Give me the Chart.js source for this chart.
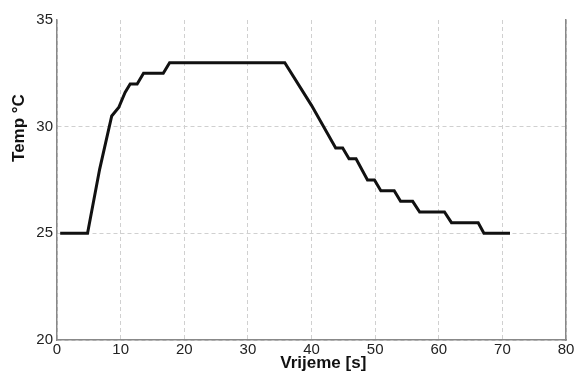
<!DOCTYPE html>
<html>
<head>
<meta charset="utf-8">
<script src="https://cdn.jsdelivr.net/npm/chart.js@4/dist/chart.umd.min.js"></script>
<style>
    html, body { margin: 0; padding: 0; background: #fff; }
    #box { width: 577px; height: 374px; }
</style>
</head>
<body>
<div id="box"><canvas id="tempGraphic"></canvas></div>
<script>
// time [s] and temperature [°C]
const times = [0.5, 4.8, 6.7, 8.6, 9.7, 10.7, 11.5, 12.6, 13.6, 16.7, 17.7, 35.8, 40, 43.8, 44.9, 45.9, 47, 48.8, 49.9, 50.9, 53, 54, 55.9, 57, 60.9, 62, 66.2, 67.1, 71.2];
const temps = [25, 25, 28, 30.5, 30.9, 31.6, 32, 32, 32.5, 32.5, 33, 33, 31, 29, 29, 28.5, 28.5, 27.5, 27.5, 27, 27, 26.5, 26.5, 26, 26, 25.5, 25.5, 25, 25];
const xTicks = [0, 10, 20, 30, 40, 50, 60, 70, 80];
const yTicks = [20, 25, 30, 35];

const points = times.map((t, i) => ({ x: t, y: temps[i] }));

const tickFont = { family: 'Liberation Sans, Arial, sans-serif', size: 15 };
const titleFont = { family: 'Liberation Sans, Arial, sans-serif', size: 17, weight: 'bold' };

const config = {
    type: 'line',
    data: {
        datasets: [{
            data: points,
            borderColor: '#111',
            borderWidth: 3,
            fill: false,
            tension: 0,
            pointRadius: 0
        }]
    },
    options: {
        animation: false,
        responsive: true,
        maintainAspectRatio: false,
        layout: { padding: { top: 20, right: 11, left: 0, bottom: 0 } },
        plugins: { legend: { display: false }, tooltip: { enabled: false } },
        scales: {
            x: {
                type: 'linear',
                min: 0,
                max: 80,
                afterBuildTicks: (scale) => { scale.ticks = xTicks.map(v => ({ value: v })); },
                afterFit: (scale) => { scale.height = 34; },
                ticks: { color: '#222', font: tickFont, padding: 1 },
                grid: { color: '#d0d0d0', drawTicks: false },
                border: { display: true, color: '#888', width: 1.5, dash: [4, 3] },
                title: {
                    display: true,
                    text: '     Vrijeme [s]',
                    color: '#111',
                    font: titleFont,
                    padding: { top: 0, bottom: 0 }
                }
            },
            y: {
                min: 20,
                max: 35,
                afterBuildTicks: (scale) => { scale.ticks = yTicks.map(v => ({ value: v })); },
                afterFit: (scale) => { scale.width = 57; },
                ticks: { color: '#222', font: tickFont, padding: 4 },
                grid: {
                    color: (ctx) => ctx.tick && ctx.tick.value === 35 ? 'rgba(0,0,0,0)' : '#d0d0d0',
                    drawTicks: false
                },
                border: { display: true, color: '#888', width: 1.5, dash: [4, 3] },
                title: {
                    display: true,
                    text: '                      Temp °C',
                    color: '#111',
                    font: titleFont,
                    padding: { top: 9, bottom: 0 }
                }
            },
            y2: {
                position: 'right',
                min: 20,
                max: 35,
                afterFit: (scale) => { scale.width = 0; },
                ticks: { display: false },
                grid: { display: false, drawTicks: false },
                border: { display: true, color: '#888', width: 1.5 }
            }
        }
    }
};

new Chart(document.querySelector('#tempGraphic'), config);
</script>
</body>
</html>
